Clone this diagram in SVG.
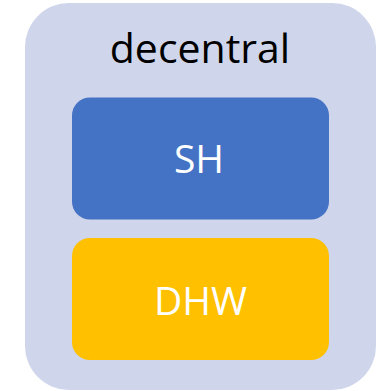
<svg xmlns="http://www.w3.org/2000/svg" width="386" height="391" viewBox="0 0 386 391">
<style>
.lbl{font-family:"Open Sans","Liberation Sans",sans-serif;text-anchor:middle}
.w{fill:#FFFFFF;font-size:39px}
</style>
<g id="decentral">
<rect x="25" y="3" width="351" height="387" rx="44" ry="44" fill="#CFD5EA"/>
<text class="lbl" x="200" y="63" font-size="41" fill="#000000">decentral</text>
</g>
<g id="SH">
<rect x="72" y="97.5" width="257" height="122" rx="18" ry="18" fill="#4472C4"/>
<text class="lbl w" x="199" y="173">SH</text>
</g>
<g id="DHW">
<rect x="72" y="238" width="257" height="122" rx="18" ry="18" fill="#FFC000"/>
<text class="lbl w" x="200.5" y="315">DHW</text>
</g>
<g id="connectors"/>
</svg>
